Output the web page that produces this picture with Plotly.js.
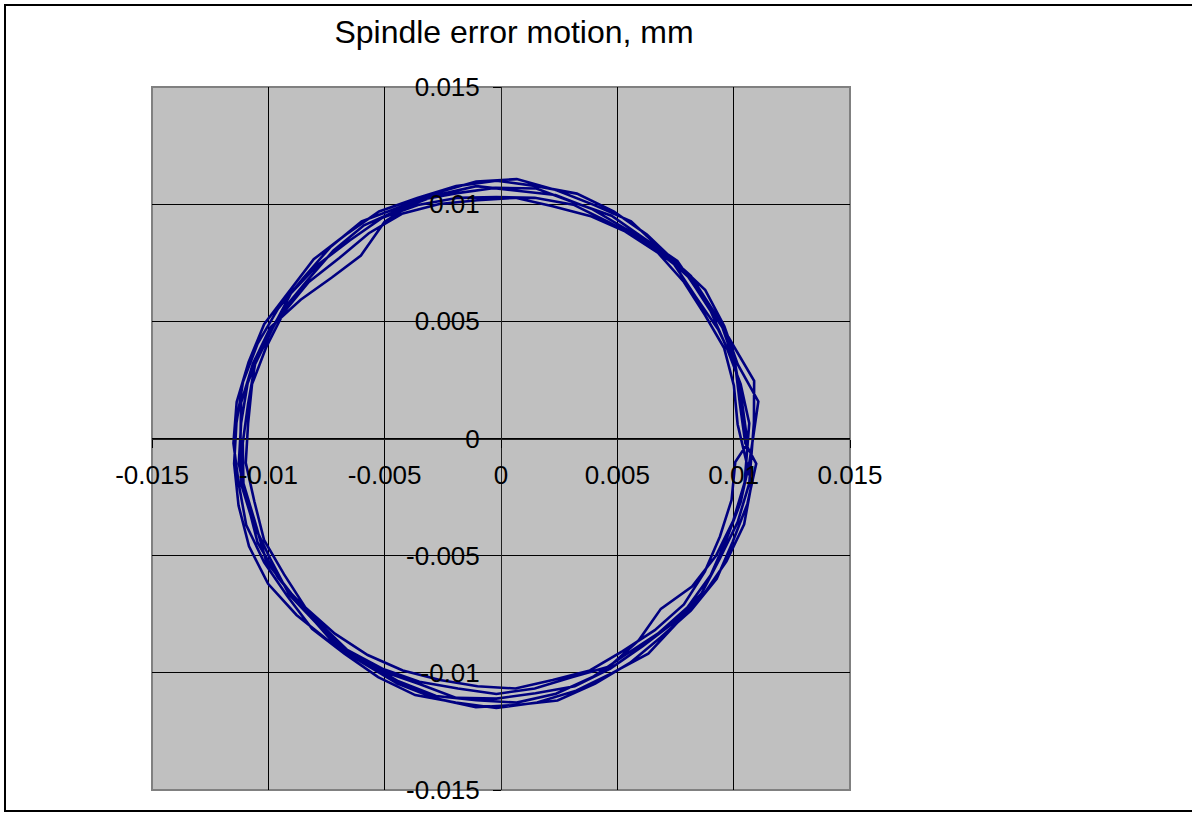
<!DOCTYPE html>
<html>
<head>
<meta charset="utf-8">
<script src="https://cdn.plot.ly/plotly-3.0.1.min.js"></script>
<style>
html,body{margin:0;padding:0;background:#fff;}
#chart{width:1192px;height:813px;}
</style>
</head>
<body>
<div id="chart"></div>
<script>
// Spindle error motion, mm — six traced revolutions
const rev1X = [0.01080, 0.01106, 0.01017, 0.00960, 0.00878, 0.00751, 0.00627, 0.00484, 0.00326, 0.00153, -0.00020, -0.00193, -0.00360, -0.00524, -0.00667, -0.00805, -0.00910, -0.01018, -0.01085, -0.01136, -0.01150, -0.01127, -0.01095, -0.01018, -0.00918, -0.00812, -0.00673, -0.00528, -0.00369, -0.00195, -0.00020, 0.00155, 0.00323, 0.00479, 0.00633, 0.00751, 0.00870, 0.00969, 0.01045, 0.01077];
const rev1Y = [-0.00020, 0.00158, 0.00317, 0.00479, 0.00633, 0.00751, 0.00870, 0.00969, 0.01045, 0.01077, 0.01100, 0.01077, 0.01026, 0.00969, 0.00870, 0.00765, 0.00627, 0.00488, 0.00326, 0.00156, -0.00020, -0.00195, -0.00369, -0.00528, -0.00673, -0.00812, -0.00918, -0.01018, -0.01095, -0.01127, -0.01150, -0.01127, -0.01076, -0.01000, -0.00918, -0.00791, -0.00667, -0.00524, -0.00366, -0.00193];

const rev2X = [0.01017, 0.01001, 0.00959, 0.00876, 0.00786, 0.00674, 0.00533, 0.00382, 0.00222, 0.00062, -0.00101, -0.00265, -0.00426, -0.00568, -0.00695, -0.00826, -0.00933, -0.01009, -0.01070, -0.01087, -0.01097, -0.01060, -0.01018, -0.00933, -0.00841, -0.00714, -0.00573, -0.00422, -0.00262, -0.00101, 0.00062, 0.00222, 0.00382, 0.00523, 0.00661, 0.00786, 0.00876, 0.00941, 0.00991, 0.01007];
const rev2Y = [0.00061, 0.00225, 0.00386, 0.00528, 0.00668, 0.00793, 0.00884, 0.00950, 0.00991, 0.01027, 0.01017, 0.01001, 0.00959, 0.00876, 0.00770, 0.00668, 0.00539, 0.00390, 0.00232, 0.00063, -0.00104, -0.00269, -0.00434, -0.00579, -0.00721, -0.00833, -0.00924, -0.00990, -0.01031, -0.01057, -0.01067, -0.01031, -0.00990, -0.00907, -0.00818, -0.00708, -0.00568, -0.00418, -0.00262, -0.00100];

const rev3X = [0.01060, 0.01037, 0.01007, 0.00951, 0.00854, 0.00758, 0.00615, 0.00475, 0.00314, 0.00152, -0.00020, -0.00188, -0.00357, -0.00501, -0.00602, -0.00727, -0.00861, -0.00991, -0.01066, -0.01117, -0.01120, -0.01117, -0.01066, -0.00991, -0.00910, -0.00791, -0.00667, -0.00515, -0.00354, -0.00192, -0.00020, 0.00148, 0.00317, 0.00470, 0.00609, 0.00744, 0.00862, 0.00942, 0.01017, 0.01067];
const rev3Y = [-0.00020, 0.00147, 0.00314, 0.00475, 0.00615, 0.00758, 0.00854, 0.00951, 0.01007, 0.01067, 0.01070, 0.01047, 0.01017, 0.00924, 0.00781, 0.00687, 0.00592, 0.00475, 0.00320, 0.00153, -0.00020, -0.00193, -0.00360, -0.00515, -0.00667, -0.00791, -0.00910, -0.00991, -0.01047, -0.01107, -0.01110, -0.01087, -0.01057, -0.00982, -0.00886, -0.00784, -0.00661, -0.00510, -0.00357, -0.00192];

const rev4X = [0.01087, 0.01088, 0.00996, 0.00910, 0.00816, 0.00687, 0.00559, 0.00401, 0.00239, 0.00068, -0.00107, -0.00276, -0.00437, -0.00599, -0.00734, -0.00848, -0.00958, -0.01046, -0.01109, -0.01137, -0.01147, -0.01128, -0.01083, -0.01001, -0.00879, -0.00740, -0.00594, -0.00445, -0.00281, -0.00108, 0.00067, 0.00243, 0.00405, 0.00554, 0.00687, 0.00816, 0.00927, 0.00996, 0.01059, 0.01097];
const rev4Y = [0.00067, 0.00246, 0.00401, 0.00549, 0.00694, 0.00808, 0.00927, 0.00996, 0.01059, 0.01107, 0.01097, 0.01049, 0.00987, 0.00927, 0.00816, 0.00687, 0.00554, 0.00405, 0.00241, 0.00067, -0.00108, -0.00286, -0.00460, -0.00620, -0.00753, -0.00864, -0.00958, -0.01046, -0.01109, -0.01147, -0.01137, -0.01118, -0.01046, -0.00958, -0.00848, -0.00734, -0.00599, -0.00441, -0.00279, -0.00107];

const rev5X = [0.01050, 0.01027, 0.01007, 0.00933, 0.00838, 0.00744, 0.00609, 0.00461, 0.00311, 0.00145, -0.00020, -0.00185, -0.00351, -0.00510, -0.00649, -0.00784, -0.00902, -0.00982, -0.01057, -0.01087, -0.01110, -0.01107, -0.01057, -0.01009, -0.00902, -0.00784, -0.00661, -0.00510, -0.00351, -0.00185, -0.00020, 0.00145, 0.00304, 0.00466, 0.00592, 0.00687, 0.00821, 0.00924, 0.00998, 0.01047];
const rev5Y = [-0.00020, 0.00145, 0.00314, 0.00466, 0.00603, 0.00744, 0.00846, 0.00924, 0.00998, 0.01027, 0.01030, 0.01027, 0.00998, 0.00942, 0.00846, 0.00744, 0.00621, 0.00470, 0.00317, 0.00148, -0.00020, -0.00192, -0.00357, -0.00524, -0.00661, -0.00784, -0.00902, -0.00982, -0.01038, -0.01067, -0.01090, -0.01067, -0.01019, -0.00973, -0.00861, -0.00727, -0.00632, -0.00501, -0.00351, -0.00188];

const rev6X = [0.01067, 0.01030, 0.00969, 0.00901, 0.00808, 0.00681, 0.00539, 0.00394, 0.00234, 0.00064, -0.00106, -0.00274, -0.00434, -0.00589, -0.00721, -0.00833, -0.00941, -0.01027, -0.01089, -0.01117, -0.01127, -0.01089, -0.01046, -0.00958, -0.00848, -0.00734, -0.00589, -0.00441, -0.00279, -0.00106, 0.00067, 0.00236, 0.00394, 0.00533, 0.00674, 0.00801, 0.00901, 0.00969, 0.01030, 0.01067, 0.01080];
const rev6Y = [0.00065, 0.00232, 0.00390, 0.00544, 0.00687, 0.00801, 0.00893, 0.00978, 0.01039, 0.01057, 0.01077, 0.01039, 0.00978, 0.00910, 0.00801, 0.00674, 0.00544, 0.00397, 0.00236, 0.00066, -0.00107, -0.00276, -0.00445, -0.00594, -0.00727, -0.00856, -0.00950, -0.01036, -0.01099, -0.01117, -0.01127, -0.01089, -0.01018, -0.00924, -0.00833, -0.00721, -0.00584, -0.00430, -0.00272, -0.00105, -0.00020];

const tickValues = [-0.015, -0.01, -0.005, 0, 0.005, 0.01, 0.015];
const tickLabels = ['-0.015', '-0.01', '-0.005', '0', '0.005', '0.01', '0.015'];

const xs = [].concat(rev1X, rev2X, rev3X, rev4X, rev5X, rev6X);
const ys = [].concat(rev1Y, rev2Y, rev3Y, rev4Y, rev5Y, rev6Y);

const FONT = 'Liberation Sans, Arial, Helvetica, sans-serif';

const trace = {
  x: xs, y: ys, type: 'scatter', mode: 'lines',
  line: {color: '#000080', width: 2.6},
  hoverinfo: 'skip'
};

function axis(extra) {
  return Object.assign({
    range: [-0.015, 0.015],
    tickmode: 'array', tickvals: tickValues, ticktext: tickLabels,
    showgrid: true, gridcolor: '#000000', gridwidth: 1,
    zeroline: false,
    showline: true, linecolor: '#202020', linewidth: 1.3,
    anchor: 'free', position: 0.5,
    ticks: 'outside', ticklen: 8, tickwidth: 1, tickcolor: '#000000',
    tickfont: {family: FONT, size: 26, color: '#000000'},
    fixedrange: true
  }, extra);
}

const L = 152, R = 850, T = 87, B = 790;
const W = R - L, H = B - T;

const layout = {
  width: 1192, height: 813,
  margin: {l: L, r: 1192 - R, t: T, b: 813 - B, pad: 0},
  paper_bgcolor: '#ffffff', plot_bgcolor: '#c0c0c0',
  showlegend: false,
  title: {
    text: 'Spindle error motion, mm',
    font: {family: FONT, size: 32, color: '#000000'},
    xref: 'container', x: 514 / 1192, xanchor: 'center',
    yref: 'container', y: 1 - 32 / 813, yanchor: 'middle'
  },
  xaxis: axis({ticklabelstandoff: 5}),
  yaxis: axis({ticklabelstandoff: 8}),
  shapes: [
    {type: 'rect', xref: 'paper', yref: 'paper', x0: 0, x1: 1, y0: 0, y1: 1,
     line: {color: '#808080', width: 2}, fillcolor: 'rgba(0,0,0,0)', layer: 'below'},
    {type: 'rect', xref: 'paper', yref: 'paper',
     x0: (5 - L) / W, x1: (1200 - L) / W, y0: (B - 811) / H, y1: (B - 5) / H,
     line: {color: '#000000', width: 2}, fillcolor: 'rgba(0,0,0,0)', layer: 'above'}
  ]
};

Plotly.newPlot('chart', [trace], layout, {staticPlot: true, displayModeBar: false});
</script>
</body>
</html>
